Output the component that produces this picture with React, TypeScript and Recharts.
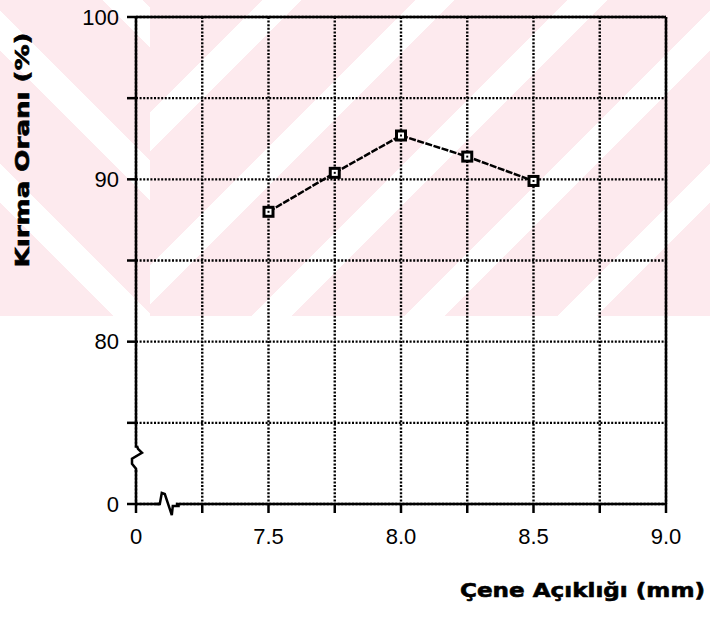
import React from "react";
import {
  LineChart,
  Line,
  XAxis,
  YAxis,
  CartesianGrid,
  ReferenceLine,
  ReferenceDot,
} from "recharts";

// ---- data ----
const jawOpening = [7.5, 7.75, 8.0, 8.25, 8.5]; // Çene Açıklığı (mm)
const crushRatio = [88.0, 90.4, 92.7, 91.4, 89.9]; // Kırma Oranı (%)

// axis ticks (the axes are broken: 7.0 stands for "0" on x, 70 stands for "0" on y)
const xTicks = [7.0, 7.25, 7.5, 7.75, 8.0, 8.25, 8.5, 8.75, 9.0];
const xTickLabels = ["0", "", "7.5", "", "8.0", "", "8.5", "", "9.0"];
const yTicks = [70, 75, 80, 85, 90, 95, 100];
const yTickLabels = ["0", "", "80", "", "90", "", "100"];

const xTitle = "Çene Açıklığı (mm)";
const yTitle = "Kırma Oranı (%)";

// axis-break locations (in axis units)
const xBreakAt = 7.12;
const yBreakAt = 72.6;

const data = jawOpening.map((x, i) => ({ x, y: crushRatio[i] }));

const SquareDot = (props: any) => {
  const { cx, cy, index } = props;
  if (cx == null || cy == null) return <g key={`d-${index}`} />;
  return (
    <g key={`d-${index}`}>
      <rect
        x={cx - 4.5}
        y={cy - 4.5}
        width={9}
        height={9}
        fill="#fff"
        stroke="#000"
        strokeWidth={3}
      />
      <rect x={cx - 1} y={cy - 1} width={2} height={2} fill="#000" />
    </g>
  );
};

const YBreak = (props: any) => {
  const { cx, cy } = props;
  if (cx == null || cy == null) return <g />;
  return (
    <g>
      <line x1={cx} y1={cy - 14} x2={cx} y2={cy + 8} stroke="#fff" strokeWidth={5} />
      <path
        d={`M ${cx} ${cy + 10} L ${cx} ${cy + 7} L ${cx - 4} ${cy + 2} L ${cx - 4} ${cy - 3} L ${cx + 6} ${cy - 9} L ${cx + 2} ${cy - 13} L ${cx + 1} ${cy - 16}`}
        fill="none"
        stroke="#000"
        strokeWidth={2.5}
      />
    </g>
  );
};

const XBreak = (props: any) => {
  const { cx, cy } = props;
  if (cx == null || cy == null) return <g />;
  return (
    <g>
      <line x1={cx - 8} y1={cy} x2={cx + 8} y2={cy} stroke="#fff" strokeWidth={5} />
      <path
        d={`M ${cx - 12} ${cy} L ${cx - 8} ${cy} L ${cx - 6} ${cy - 11} L ${cx - 3} ${cy - 10} L ${cx + 4} ${cy + 11} L ${cx + 5} ${cy + 2} L ${cx + 12} ${cy + 2}`}
        fill="none"
        stroke="#000"
        strokeWidth={2.5}
      />
    </g>
  );
};

const labelOf = (ticks: number[], labels: string[]) => (v: number) => {
  const i = ticks.findIndex((t) => Math.abs(t - v) < 1e-6);
  return i >= 0 ? labels[i] : "";
};

const tickStyle = { fill: "#000", fontSize: 22, fontFamily: "Liberation Sans" };

export default function App() {
  const W = 710;
  const H = 623;
  return (
    <div style={{ position: "relative", width: W, height: H, overflow: "hidden", background: "#fff" }}>
      <style>{`body{margin:0}`}</style>
      {/* watermark-like pink background */}
      <div
        style={{
          position: "absolute",
          left: 0,
          top: 0,
          width: 150,
          height: 316,
          background:
            "repeating-linear-gradient(45deg, #fdeaee 0px, #fdeaee 80px, #ffffff 80px, #ffffff 108px)",
        }}
      />
      <div
        style={{
          position: "absolute",
          left: 150,
          top: 0,
          width: 560,
          height: 316,
          background:
            "repeating-linear-gradient(-45deg, #fdeaee 0px, #fdeaee 80px, #ffffff 80px, #ffffff 108px)",
        }}
      />
      <div style={{ position: "absolute", left: 0, top: 0 }}>
        <LineChart
          width={W}
          height={H}
          data={data}
          margin={{ top: 17, right: 44, left: 56, bottom: 79 }}
        >
          <CartesianGrid
            stroke="#000"
            strokeWidth={2.4}
            strokeDasharray="2 1.6"
            fill="none"
          />
          <XAxis
            type="number"
            dataKey="x"
            domain={[7.0, 9.0]}
            ticks={xTicks}
            allowDataOverflow
            height={40}
            tickSize={9}
            tickMargin={15}
            tickFormatter={labelOf(xTicks, xTickLabels)}
            tick={tickStyle}
            axisLine={{ stroke: "#000", strokeWidth: 2.5 }}
            tickLine={{ stroke: "#000", strokeWidth: 2.5 }}
            interval={0}
          />
          <YAxis
            type="number"
            dataKey="y"
            domain={[70, 100]}
            ticks={yTicks}
            allowDataOverflow
            width={80}
            tickSize={9}
            tickMargin={8}
            tickFormatter={labelOf(yTicks, yTickLabels)}
            tick={tickStyle}
            axisLine={{ stroke: "#000", strokeWidth: 2.5 }}
            tickLine={{ stroke: "#000", strokeWidth: 2.5 }}
            interval={0}
          />
          <ReferenceLine y={100} stroke="#000" strokeWidth={2.5} />
          <ReferenceLine x={9.0} stroke="#000" strokeWidth={2.5} />
          <Line
            type="linear"
            dataKey="y"
            stroke="#000"
            strokeWidth={2.5}
            strokeDasharray="7 1.5"
            dot={SquareDot}
            activeDot={false}
            isAnimationActive={false}
          />
          <ReferenceDot x={7.0} y={yBreakAt} ifOverflow="visible" shape={YBreak} />
          <ReferenceDot x={xBreakAt} y={70} ifOverflow="visible" shape={XBreak} />
        </LineChart>
      </div>
      <svg
        width={W}
        height={H}
        style={{ position: "absolute", left: 0, top: 0, pointerEvents: "none" }}
      >
        <text
          transform="translate(29,150) rotate(-90)"
          textAnchor="middle"
          fontFamily="DejaVu Sans"
          fontWeight="bold"
          fontSize={19}
          fill="#000"
          stroke="#000"
          strokeWidth={0.6}
          textLength={235}
          lengthAdjust="spacingAndGlyphs"
        >
          {yTitle}
        </text>
        <text
          x={460}
          y={597}
          fontFamily="DejaVu Sans"
          fontWeight="bold"
          fontSize={20}
          fill="#000"
          stroke="#000"
          strokeWidth={0.6}
          textLength={245}
          lengthAdjust="spacingAndGlyphs"
        >
          {xTitle}
        </text>
      </svg>
    </div>
  );
}
